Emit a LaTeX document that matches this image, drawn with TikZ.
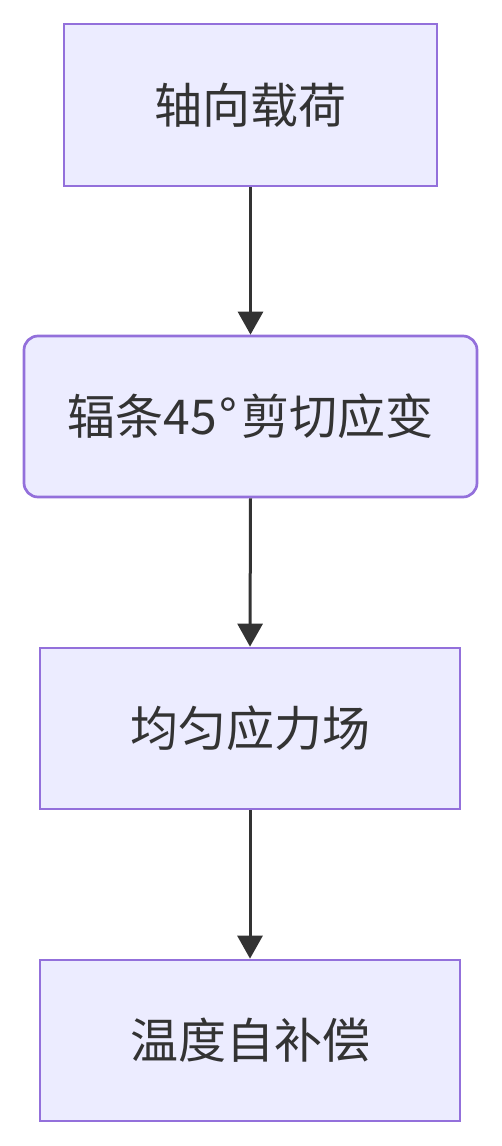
\documentclass[tikz,border=0pt]{standalone}
\usepackage{fontspec}
\newfontfamily\cjk{Noto Sans CJK SC}
\usetikzlibrary{arrows.meta}
\definecolor{boxfill}{HTML}{ECECFF}
\definecolor{boxline}{HTML}{9370DB}
\definecolor{ink}{HTML}{333333}
\begin{document}
\begin{tikzpicture}[x=1pt,y=1pt,
  box/.style={draw=boxline,fill=boxfill,line width=2.7pt,text=ink,
    font=\cjk\fontsize{48}{58}\selectfont,inner sep=0pt,anchor=center},
  conn/.style={draw=ink,line width=3pt,-{Triangle[width=25pt,length=23pt]}}]
\useasboundingbox (0,0) rectangle (501,-1146);
\node[box,minimum width=373pt,minimum height=162pt] (a) at (250.5,-105) {轴向载荷};
\node[box,rounded corners=14pt,minimum width=453pt,minimum height=161pt] (b) at (250.5,-416.5) {辐条45\kern3pt°\kern4pt剪切应变};
\node[box,minimum width=420pt,minimum height=161pt] (c) at (250,-728.5) {均匀应力场};
\node[box,minimum width=420pt,minimum height=161pt] (d) at (250,-1040.5) {温度自补偿};
\draw[conn] (a.south) -- (b.north);
\draw[conn] (b.south) -- (c.north);
\draw[conn] (c.south) -- (d.north);
\end{tikzpicture}
\end{document}
